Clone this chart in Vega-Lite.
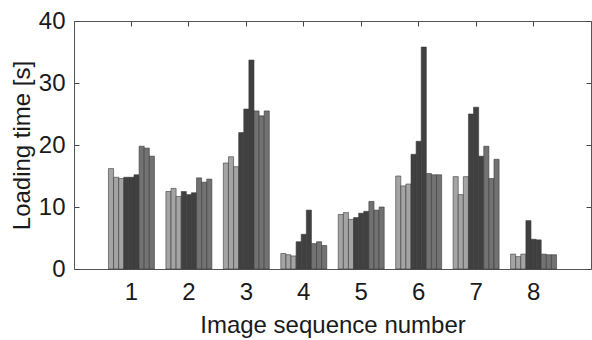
{
  "$schema": "https://vega.github.io/schema/vega-lite/v6.json",
  "autosize": "none",
  "width": 517,
  "height": 248,
  "padding": {"left": 74, "top": 21, "right": 1, "bottom": 71},
  "background": "white",
  "config": {
    "view": {"stroke": null},
    "font": "Liberation Sans",
    "axis": {
      "domainColor": "#555555",
      "domainWidth": 1,
      "tickColor": "#444444",
      "labelFont": "Liberation Sans",
      "titleFont": "Liberation Sans",
      "labelFontSize": 24,
      "titleFontSize": 24,
      "labelColor": "#1a1a1a",
      "titleColor": "#1a1a1a",
      "titleFontWeight": "normal",
      "grid": false
    }
  },
  "data": {
    "values": [
      {"seq": 1, "series": 1, "time": 16.2}, {"seq": 1, "series": 2, "time": 14.8}, {"seq": 1, "series": 3, "time": 14.6},
      {"seq": 1, "series": 4, "time": 14.8}, {"seq": 1, "series": 5, "time": 14.8}, {"seq": 1, "series": 6, "time": 15.2},
      {"seq": 1, "series": 7, "time": 19.8}, {"seq": 1, "series": 8, "time": 19.5}, {"seq": 1, "series": 9, "time": 18.2},
      {"seq": 2, "series": 1, "time": 12.5}, {"seq": 2, "series": 2, "time": 13.0}, {"seq": 2, "series": 3, "time": 11.7},
      {"seq": 2, "series": 4, "time": 12.5}, {"seq": 2, "series": 5, "time": 12.0}, {"seq": 2, "series": 6, "time": 12.3},
      {"seq": 2, "series": 7, "time": 14.7}, {"seq": 2, "series": 8, "time": 14.0}, {"seq": 2, "series": 9, "time": 14.5},
      {"seq": 3, "series": 1, "time": 17.1}, {"seq": 3, "series": 2, "time": 18.1}, {"seq": 3, "series": 3, "time": 16.5},
      {"seq": 3, "series": 4, "time": 22.0}, {"seq": 3, "series": 5, "time": 25.8}, {"seq": 3, "series": 6, "time": 33.7},
      {"seq": 3, "series": 7, "time": 25.5}, {"seq": 3, "series": 8, "time": 24.7}, {"seq": 3, "series": 9, "time": 25.5},
      {"seq": 4, "series": 1, "time": 2.5}, {"seq": 4, "series": 2, "time": 2.3}, {"seq": 4, "series": 3, "time": 2.1},
      {"seq": 4, "series": 4, "time": 4.4}, {"seq": 4, "series": 5, "time": 5.6}, {"seq": 4, "series": 6, "time": 9.5},
      {"seq": 4, "series": 7, "time": 4.1}, {"seq": 4, "series": 8, "time": 4.4}, {"seq": 4, "series": 9, "time": 3.8},
      {"seq": 5, "series": 1, "time": 8.8}, {"seq": 5, "series": 2, "time": 9.1}, {"seq": 5, "series": 3, "time": 8.0},
      {"seq": 5, "series": 4, "time": 8.3}, {"seq": 5, "series": 5, "time": 9.0}, {"seq": 5, "series": 6, "time": 9.3},
      {"seq": 5, "series": 7, "time": 10.9}, {"seq": 5, "series": 8, "time": 9.5}, {"seq": 5, "series": 9, "time": 10.0},
      {"seq": 6, "series": 1, "time": 15.0}, {"seq": 6, "series": 2, "time": 13.4}, {"seq": 6, "series": 3, "time": 13.7},
      {"seq": 6, "series": 4, "time": 18.5}, {"seq": 6, "series": 5, "time": 20.6}, {"seq": 6, "series": 6, "time": 35.8},
      {"seq": 6, "series": 7, "time": 15.4}, {"seq": 6, "series": 8, "time": 15.2}, {"seq": 6, "series": 9, "time": 15.2},
      {"seq": 7, "series": 1, "time": 14.9}, {"seq": 7, "series": 2, "time": 12.0}, {"seq": 7, "series": 3, "time": 14.9},
      {"seq": 7, "series": 4, "time": 25.0}, {"seq": 7, "series": 5, "time": 26.1}, {"seq": 7, "series": 6, "time": 18.2},
      {"seq": 7, "series": 7, "time": 19.8}, {"seq": 7, "series": 8, "time": 14.6}, {"seq": 7, "series": 9, "time": 17.7},
      {"seq": 8, "series": 1, "time": 2.4}, {"seq": 8, "series": 2, "time": 2.0}, {"seq": 8, "series": 3, "time": 2.4},
      {"seq": 8, "series": 4, "time": 7.8}, {"seq": 8, "series": 5, "time": 4.8}, {"seq": 8, "series": 6, "time": 4.7},
      {"seq": 8, "series": 7, "time": 2.4}, {"seq": 8, "series": 8, "time": 2.3}, {"seq": 8, "series": 9, "time": 2.3}
    ]
  },
  "layer": [
    {
      "mark": {"type": "bar", "stroke": "#3a3a3a", "strokeWidth": 0.6},
      "encoding": {
        "x": {
          "field": "seq", "type": "ordinal",
          "scale": {"paddingInner": 0.2, "paddingOuter": 0.6},
          "axis": {"orient": "bottom", "title": "Image sequence number", "labelAngle": 0, "ticks": false, "labelPadding": 11, "titlePadding": 9}
        },
        "xOffset": {"field": "series", "type": "ordinal", "scale": {"paddingInner": 0, "paddingOuter": 0}},
        "y": {
          "field": "time", "type": "quantitative",
          "scale": {"domain": [0, 40], "nice": false},
          "axis": {"orient": "left", "title": "Loading time [s]", "values": [0, 10, 20, 30, 40], "tickSize": -5, "labelPadding": 14, "titlePadding": 4}
        },
        "color": {
          "field": "series", "type": "ordinal",
          "scale": {"domain": [1, 2, 3, 4, 5, 6, 7, 8, 9], "range": ["#a4a4a4", "#a4a4a4", "#a4a4a4", "#404040", "#404040", "#404040", "#727272", "#727272", "#727272"]},
          "legend": null
        }
      }
    },
    {
      "mark": {"type": "bar", "opacity": 0},
      "encoding": {
        "x": {"field": "seq", "type": "ordinal", "axis": {"orient": "top", "title": null, "labels": false, "tickSize": -5}},
        "y": {"field": "time", "type": "quantitative", "axis": {"orient": "right", "title": null, "labels": false, "values": [0, 10, 20, 30, 40], "tickSize": -5}}
      }
    }
  ],
  "resolve": {"axis": {"x": "independent", "y": "independent"}}
}
